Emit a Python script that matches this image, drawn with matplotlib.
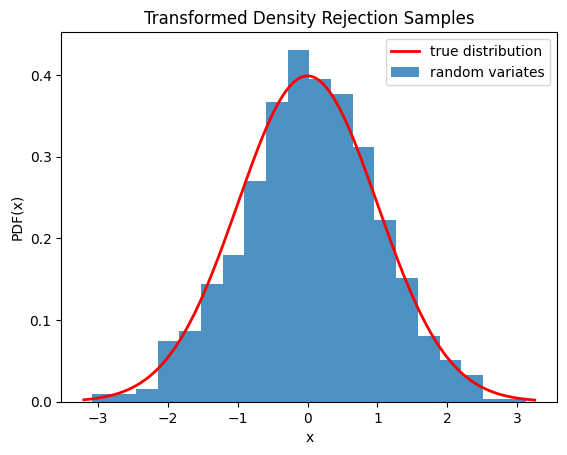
import numpy as np
import matplotlib
matplotlib.use("Agg")
import matplotlib.pyplot as plt

# histogram (density, 20 bins)
bin_lo = -3.077
bin_hi = 3.13
heights = [0.0094, 0.0094, 0.0155, 0.0744, 0.0866, 0.144, 0.180, 0.270,
           0.3676, 0.431, 0.3955, 0.377, 0.312, 0.222, 0.1515, 0.0805,
           0.051, 0.0327, 0.003, 0.003]
curve_lo = -3.2
curve_hi = 3.25

edges = np.linspace(bin_lo, bin_hi, len(heights) + 1)
x = np.linspace(curve_lo, curve_hi, 300)
pdf = np.exp(-x**2 / 2) / np.sqrt(2 * np.pi)

fig, ax = plt.subplots(figsize=(6.4, 4.8), dpi=100)
ax.plot(x, pdf, 'r-', lw=2, label='true distribution')
ax.hist(edges[:-1], bins=edges, weights=heights, alpha=0.8, label='random variates')
ax.set_xlabel('x')
ax.set_ylabel('PDF(x)')
ax.set_title('Transformed Density Rejection Samples')
ax.legend()
fig.savefig('out.png', bbox_inches='tight')
